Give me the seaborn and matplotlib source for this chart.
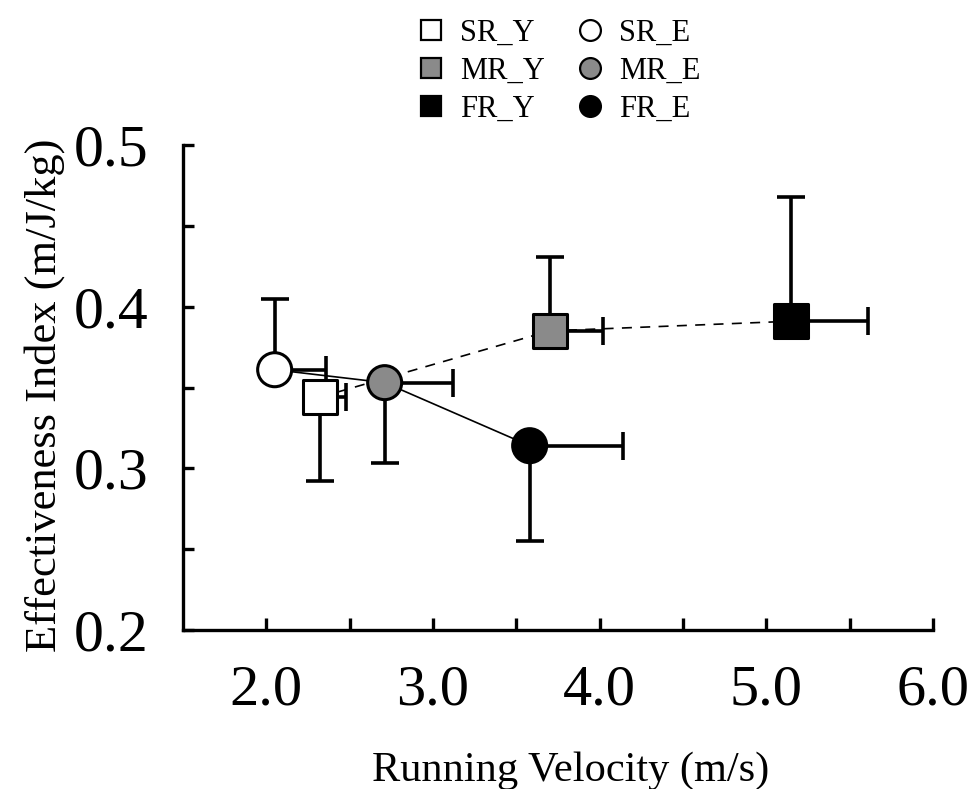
import numpy as np
import pandas as pd
import matplotlib
matplotlib.use("Agg")
import matplotlib.pyplot as plt
from matplotlib.lines import Line2D
import seaborn as sns

groups = ["SR_Y", "MR_Y", "FR_Y", "SR_E", "MR_E", "FR_E"]
age = ["Y", "Y", "Y", "E", "E", "E"]
velocity = [2.32, 3.70, 5.15, 2.05, 2.71, 3.58]
velocity_sd = [0.16, 0.32, 0.46, 0.31, 0.41, 0.56]
effectiveness = [0.344, 0.385, 0.391, 0.361, 0.353, 0.314]
effectiveness_sd = [0.052, 0.046, 0.077, 0.044, 0.050, 0.059]
sd_direction = ["down", "up", "up", "up", "down", "down"]

x_ticklabels = ["2.0", "", "3.0", "", "4.0", "", "5.0", "", "6.0"]
y_ticklabels = ["0.2", "", "0.3", "", "0.4", "", "0.5"]

df = pd.DataFrame({"group": groups, "age": age, "velocity": velocity,
                   "effectiveness": effectiveness})

fills = {"SR_Y": "white", "MR_Y": "#8a8a8a", "FR_Y": "black",
         "SR_E": "white", "MR_E": "#8a8a8a", "FR_E": "black"}
markers = {"SR_Y": "s", "MR_Y": "s", "FR_Y": "s",
           "SR_E": "o", "MR_E": "o", "FR_E": "o"}

sns.set_theme(style="white")
plt.rcParams["font.family"] = ["Liberation Serif", "DejaVu Serif"]
plt.rcParams["text.color"] = "black"
plt.rcParams["axes.labelcolor"] = "black"

fig = plt.figure(figsize=(9.76, 7.89), dpi=100)
ax = fig.add_axes([183/976, 1-630/789, (933-183)/976, (630-145)/789])

# connecting lines
young = df[df.age == "Y"]
elder = df[df.age == "E"]
sns.lineplot(data=young, x="velocity", y="effectiveness", sort=False, ax=ax,
             color="black", lw=1.2, linestyle=(0, (6, 5)), zorder=1)
sns.lineplot(data=elder, x="velocity", y="effectiveness", sort=False, ax=ax,
             color="black", lw=1.2, zorder=1)

# one-sided error bars
v = np.array(velocity)
e = np.array(effectiveness)
vsd = np.array(velocity_sd)
esd = np.array(effectiveness_sd)
down = np.array([d == "down" for d in sd_direction])
yerr = np.vstack([np.where(down, esd, 0.0), np.where(down, 0.0, esd)])
xerr = np.vstack([np.zeros_like(vsd), vsd])
ax.errorbar(v, e, yerr=yerr, xerr=xerr, fmt="none", ecolor="black",
            elinewidth=2.6, capsize=10, capthick=2.6, zorder=2)

sns.scatterplot(data=df, x="velocity", y="effectiveness", hue="group",
                style="group", palette=fills, markers=markers, s=600,
                edgecolor="black", linewidth=2.2, legend=False, ax=ax,
                zorder=3)

ax.set_xlim(1.5, 6.0)
ax.set_ylim(0.2, 0.5)
ax.set_xticks(np.arange(2.0, 6.01, 0.5))
ax.set_xticklabels(x_ticklabels)
ax.set_yticks(np.arange(0.2, 0.501, 0.05))
ax.set_yticklabels(y_ticklabels)
ax.tick_params(axis="x", direction="in", length=9, width=2.4, pad=25,
               labelsize=42, colors="black", bottom=True)
ax.tick_params(axis="y", direction="in", length=8, width=2.4, pad=25,
               labelsize=43, colors="black", left=True)
for s in ["top", "right"]:
    ax.spines[s].set_visible(False)
for s in ["left", "bottom"]:
    ax.spines[s].set_linewidth(2.4)
    ax.spines[s].set_color("black")
ax.grid(False)

ax.set_xlabel("Running Velocity (m/s)", fontsize=30.5, labelpad=25,
              color="black", x=0.517)
ax.set_ylabel("Effectiveness Index (m/J/kg)", fontsize=32, labelpad=6,
              color="black", y=0.485)

handles = [Line2D([0], [0], marker=markers[g], color="none",
                  markerfacecolor=fills[g], markeredgecolor="black",
                  markeredgewidth=1.6, markersize=15, label=g) for g in groups]
fig.legend(handles=handles, ncol=2, loc="upper left",
           bbox_to_anchor=(397/976, 1.0), frameon=False, fontsize=22,
           handlelength=1.0, handletextpad=0.45, columnspacing=1.0,
           labelspacing=0.3, borderaxespad=0.2)

fig.savefig("out.png", dpi=100)
